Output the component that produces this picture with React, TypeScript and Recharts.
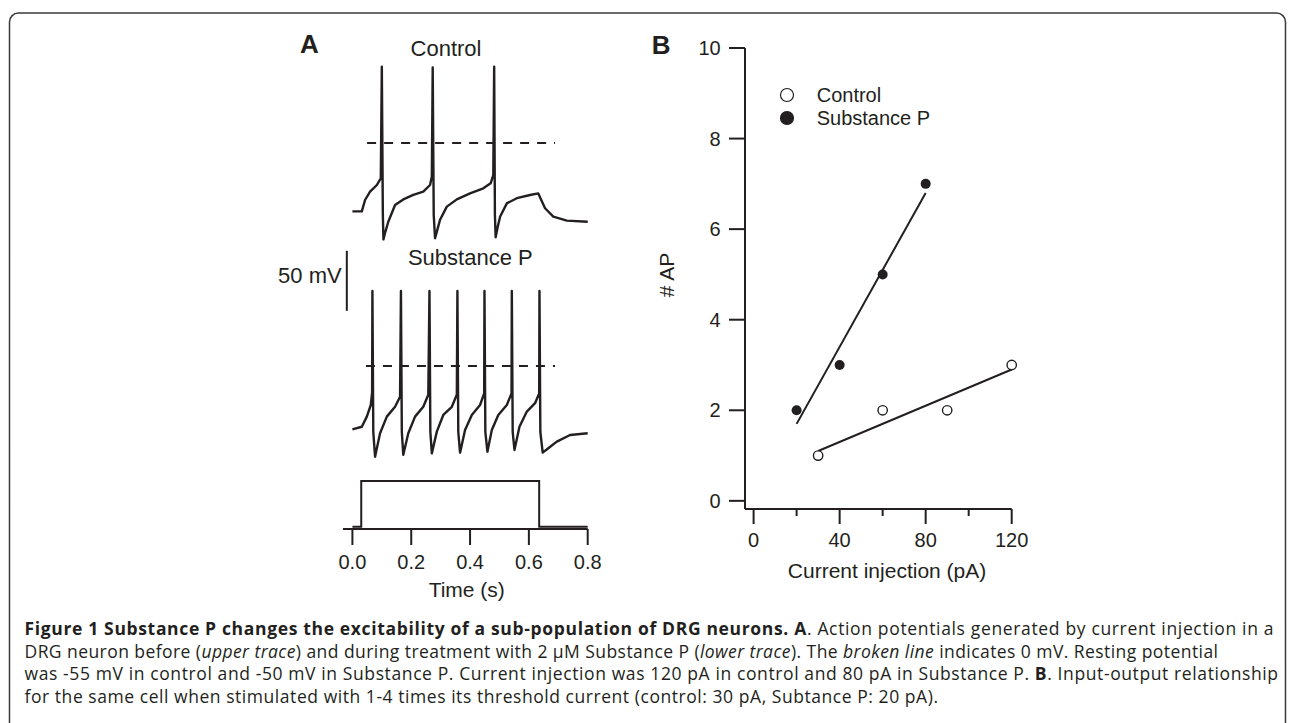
import React from "react";
import {
  ComposedChart,
  Legend,
  Line,
  LineChart,
  ReferenceLine,
  Scatter,
  XAxis,
  YAxis,
} from "recharts";

const ink = "#231f20";
const font = '"Liberation Sans", Arial, Helvetica, sans-serif';

// Panel A: membrane potential traces (time in s, Vm in mV)
const controlTime = [
  0, 0.032, 0.043, 0.06, 0.083, 0.0965, 0.1, 0.1035, 0.1055, 0.112, 0.122, 0.145, 0.173, 0.207, 0.241,
  0.264, 0.27, 0.273, 0.2765, 0.281, 0.288, 0.298, 0.321, 0.355, 0.4, 0.445, 0.47, 0.479, 0.482, 0.4845,
  0.487, 0.494, 0.502, 0.525, 0.559, 0.604, 0.632, 0.655, 0.683, 0.729, 0.8,
];
const controlVm = [
  -57, -57, -47.5, -40.6, -35, -29.4, 63.6, -60, -80.3, -74, -65.6, -51.7, -47, -43.3, -40.6,
  -35, -28, 63, -60, -79.4, -73, -64, -53, -47, -42, -37.8, -33.6, -26.7, 63.6, -60,
  -78.6, -70, -61.4, -50.3, -46, -43.3, -42, -54.4, -61.4, -64.7, -65.6,
];

const substanceTime = [
  0, 0.032, 0.049, 0.0625, 0.067, 0.068, 0.071, 0.077,
  0.094, 0.117, 0.145, 0.162, 0.165, 0.168, 0.173,
  0.19, 0.213, 0.241, 0.258, 0.262, 0.265, 0.27,
  0.287, 0.309, 0.338, 0.355, 0.357, 0.36, 0.366,
  0.383, 0.406, 0.434, 0.448, 0.449, 0.452, 0.459,
  0.474, 0.496, 0.525, 0.541, 0.542, 0.545, 0.551,
  0.568, 0.593, 0.621, 0.635, 0.636, 0.639, 0.647,
  0.666, 0.695, 0.74, 0.8,
];
const substanceVm = [
  -52.8, -50.6, -42.2, -32.5, -22, 62.5, -55, -75.6,
  -56, -42.2, -34, -25.6, 62.5, -55, -74,
  -56, -42.2, -34, -24, 62.5, -55, -72.8,
  -54.7, -40.8, -34, -24, 62.5, -55, -72.2,
  -53.3, -40.8, -32.5, -22.8, 62.5, -55, -71.4,
  -53.3, -40.8, -32.5, -22.8, 62.5, -55, -70,
  -50.6, -38, -31, -22.8, 62.5, -55, -72.2,
  -68.6, -63, -57.5, -56,
];

const stimTime = [0, 0.03, 0.03, 0.635, 0.635, 0.8];
const stimLevel = [0, 0, 1, 1, 0, 0];
const timeTicks = [0, 0.2, 0.4, 0.6, 0.8];
const controlZeroSpan = [0.05, 0.689];
const substanceZeroSpan = [0.046, 0.689];
const scaleBar = { t: -0.019, from: 46, to: 96 }; // 50 mV

// Panel B: number of action potentials vs injected current
const controlCurrent = [30, 60, 90, 120];
const controlAP = [1, 2, 2, 3];
const substanceCurrent = [20, 40, 60, 80];
const substanceAP = [2, 3, 5, 7];
const controlFitX = [30, 120];
const controlFitY = [1.1, 2.9];
const substanceFitX = [20, 80];
const substanceFitY = [1.7, 6.8];
const currentTicks = [0, 20, 40, 60, 80, 100, 120];
const apTicks = [0, 2, 4, 6, 8, 10];

const pairs = (xs: number[], ys: number[], kx: string, ky: string) =>
  xs.map((x, i) => ({ [kx]: x, [ky]: ys[i] }));

const controlTrace = pairs(controlTime, controlVm, "t", "v");
const substanceTrace = pairs(substanceTime, substanceVm, "t", "v");
const stimTrace = pairs(stimTime, stimLevel, "t", "v");
const controlPoints = pairs(controlCurrent, controlAP, "x", "y");
const substancePoints = pairs(substanceCurrent, substanceAP, "x", "y");
const controlFit = pairs(controlFitX, controlFitY, "x", "y");
const substanceFit = pairs(substanceFitX, substanceFitY, "x", "y");

const timeDomain: [number, number] = [-0.032, 0.8];
const traceMargin = { top: 10, right: 32.3, bottom: 10, left: 43 };

function CurrentTick(props: any) {
  const { x, y, payload } = props;
  const major = payload.value % 40 === 0;
  return (
    <g>
      <line x1={x} y1={y} x2={x} y2={y + (major ? 15 : 7)} stroke={ink} strokeWidth={2} />
      {major && (
        <text x={x} y={y + 37.7} textAnchor="middle" fontSize={20} fill={ink}>
          {payload.value}
        </text>
      )}
    </g>
  );
}

function LegendBox(props: any) {
  const items = (props.payload || []).filter((it: any) => it.type !== "none");
  return (
    <div style={{ fontFamily: font, fontSize: 20, color: ink }}>
      {items.map((it: any) => (
        <div key={it.value} style={{ display: "flex", alignItems: "center", height: 23 }}>
          <svg width={16} height={16}>
            <circle cx={8} cy={8} r={6.5} fill={it.color} stroke={ink} strokeWidth={1.2} />
          </svg>
          <span style={{ marginLeft: 22, lineHeight: "23px" }}>{it.value}</span>
        </div>
      ))}
    </div>
  );
}

function Trace({ data, domain, zero, height, top }: any) {
  return (
    <div style={{ position: "absolute", left: 300, top }}>
      <LineChart width={320} height={height} data={data} margin={traceMargin}>
        <XAxis hide type="number" dataKey="t" domain={timeDomain} />
        <YAxis hide type="number" domain={domain} />
        <ReferenceLine
          segment={[
            { x: zero[0], y: 0 },
            { x: zero[1], y: 0 },
          ]}
          stroke={ink}
          strokeWidth={1.8}
          strokeDasharray="9 8"
        />
        {domain[1] > scaleBar.to && (
          <ReferenceLine
            segment={[
              { x: scaleBar.t, y: scaleBar.from },
              { x: scaleBar.t, y: scaleBar.to },
            ]}
            stroke={ink}
            strokeWidth={2}
          />
        )}
        <Line
          type="linear"
          dataKey="v"
          stroke={ink}
          strokeWidth={2.4}
          dot={false}
          isAnimationActive={false}
          strokeLinejoin="round"
        />
      </LineChart>
    </div>
  );
}

const captionFont = '"Open Sans", sans-serif';

export default function App() {
  return (
    <div style={{ position: "relative", width: 1290, height: 723, background: "#fff", fontFamily: font, overflow: "hidden" }}>
      <style>{"body{margin:0}"}</style>

      <svg width={1290} height={723} style={{ position: "absolute", left: 0, top: 0 }}>
        <rect x={9.5} y={13} width={1276} height={800} rx={9} fill="none" stroke="#3a3a3a" strokeWidth={1.5} />
        <g fontFamily={font} fill={ink}>
          <text x={300} y={53} fontSize={26} fontWeight={700}>A</text>
          <text x={651.7} y={54} fontSize={26} fontWeight={700}>B</text>
          <text x={446} y={55.7} fontSize={22} textAnchor="middle">Control</text>
          <text x={470.3} y={265} fontSize={22} textAnchor="middle">Substance P</text>
          <text x={341.7} y={283.3} fontSize={22} textAnchor="end">50 mV</text>
          <text x={674.3} y={275} fontSize={21} textAnchor="middle" transform="rotate(-90 674.3 275)"># AP</text>
        </g>
        <g fontFamily={captionFont} fontSize={17.5} fill={ink}>
          <text x={24.5} y={635} textLength={1249} lengthAdjust="spacing">
            <tspan fontWeight={700}>Figure 1 Substance P changes the excitability of a sub-population of DRG neurons. A</tspan>
            <tspan>. Action potentials generated by current injection in a</tspan>
          </text>
          <text x={24.5} y={657.7} textLength={1193.5} lengthAdjust="spacing">
            <tspan>DRG neuron before (</tspan>
            <tspan fontStyle="italic">upper trace</tspan>
            <tspan>) and during treatment with 2 µM Substance P (</tspan>
            <tspan fontStyle="italic">lower trace</tspan>
            <tspan>). The </tspan>
            <tspan fontStyle="italic">broken line</tspan>
            <tspan> indicates 0 mV. Resting potential</tspan>
          </text>
          <text x={24.5} y={680} textLength={1253.5} lengthAdjust="spacing">
            <tspan>was -55 mV in control and -50 mV in Substance P. Current injection was 120 pA in control and 80 pA in Substance P. </tspan>
            <tspan fontWeight={700}>B</tspan>
            <tspan>. Input-output relationship</tspan>
          </text>
          <text x={24.5} y={702.7} textLength={913.5} lengthAdjust="spacing">
            for the same cell when stimulated with 1-4 times its threshold current (control: 30 pA, Subtance P: 20 pA).
          </text>
        </g>
      </svg>

      <Trace data={controlTrace} domain={[-90, 70]} zero={controlZeroSpan} height={212} top={49} />
      <Trace data={substanceTrace} domain={[-90, 100]} zero={substanceZeroSpan} height={248} top={236} />

      <div style={{ position: "absolute", left: 300, top: 470 }}>
        <LineChart width={320} height={140} data={stimTrace} margin={{ top: 11, right: 32.3, bottom: 11, left: 43 }}>
          <XAxis
            type="number"
            dataKey="t"
            domain={timeDomain}
            ticks={timeTicks}
            interval={0}
            height={70}
            tickFormatter={(v: number) => v.toFixed(1)}
            tick={{ fontSize: 20, fill: ink }}
            tickSize={16}
            tickMargin={9.8}
            axisLine={{ stroke: ink, strokeWidth: 2 }}
            tickLine={{ stroke: ink, strokeWidth: 2 }}
            label={{ value: "Time (s)", position: "insideBottom", offset: 2.3, dx: 1.4, fontSize: 21, fill: ink }}
          />
          <YAxis hide type="number" domain={[-0.05, 1]} />
          <Line type="linear" dataKey="v" stroke={ink} strokeWidth={2} dot={false} isAnimationActive={false} />
        </LineChart>
      </div>

      <div style={{ position: "absolute", left: 640, top: 30 }}>
        <ComposedChart width={400} height={570} margin={{ top: 18, right: 28.3, bottom: 16, left: 45 }}>
          <XAxis
            type="number"
            dataKey="x"
            domain={[-4, 120]}
            ticks={currentTicks}
            interval={0}
            height={75}
            tick={<CurrentTick />}
            tickLine={false}
            tickSize={0}
            tickMargin={0}
            axisLine={{ stroke: ink, strokeWidth: 2 }}
            label={{ value: "Current injection (pA)", position: "insideBottom", offset: 6, dx: 8.7, fontSize: 21, fill: ink }}
          />
          <YAxis
            type="number"
            dataKey="y"
            domain={[-0.18, 10]}
            ticks={apTicks}
            interval={0}
            width={60}
            tick={{ fontSize: 20, fill: ink }}
            tickSize={16}
            tickMargin={8.3}
            axisLine={{ stroke: ink, strokeWidth: 2 }}
            tickLine={{ stroke: ink, strokeWidth: 2 }}
          />
          <Legend
            layout="vertical"
            align="center"
            verticalAlign="middle"
            content={<LegendBox />}
            wrapperStyle={{ position: "absolute", left: 138.7, top: 53.5, width: "auto", height: "auto" }}
          />
          <Line data={controlFit} dataKey="y" stroke={ink} strokeWidth={2} dot={false} legendType="none" isAnimationActive={false} />
          <Line data={substanceFit} dataKey="y" stroke={ink} strokeWidth={2} dot={false} legendType="none" isAnimationActive={false} />
          <Scatter
            name="Control"
            data={controlPoints}
            dataKey="y"
            fill="#ffffff"
            isAnimationActive={false}
            shape={(p: any) => <circle cx={p.cx} cy={p.cy} r={4.7} fill="#fff" stroke={ink} strokeWidth={1.4} />}
          />
          <Scatter
            name="Substance P"
            data={substancePoints}
            dataKey="y"
            fill={ink}
            isAnimationActive={false}
            shape={(p: any) => <circle cx={p.cx} cy={p.cy} r={5} fill={ink} />}
          />
        </ComposedChart>
      </div>
    </div>
  );
}
